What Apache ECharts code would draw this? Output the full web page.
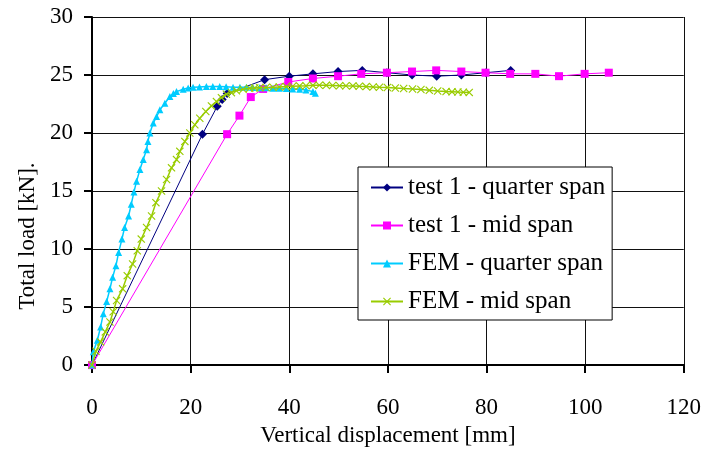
<!DOCTYPE html>
<html>
<head>
<meta charset="utf-8">
<script src="https://cdn.jsdelivr.net/npm/echarts@6/dist/echarts.min.js"></script>
<style>html,body{margin:0;padding:0;background:#fff}#c{width:704px;height:452px}</style>
</head>
<body>
<div id="c"></div>
<script>
const seriesNames = ['test 1 - quarter span', 'test 1 - mid span', 'FEM - quarter span', 'FEM - mid span'];
const xTicks = [0, 20, 40, 60, 80, 100, 120];
const yTicks = [0, 5, 10, 15, 20, 25, 30];

const test1Quarter = [[0,0],[22.4,19.9],[25.4,22.3],[26.4,22.9],[27.4,23.4],[35.0,24.6],[40.0,24.9],[44.8,25.1],[49.9,25.3],[54.8,25.4],[59.8,25.2],[64.9,25.0],[69.9,24.9],[74.9,25.0],[79.9,25.2],[84.9,25.4]];
const test1Mid = [[0,0],[27.4,19.9],[29.9,21.5],[32.2,23.1],[34.7,23.8],[39.8,24.4],[44.8,24.7],[49.9,24.9],[54.6,25.1],[59.8,25.2],[64.9,25.3],[69.8,25.4],[74.9,25.3],[79.8,25.2],[84.8,25.1],[89.9,25.1],[94.7,24.9],[99.9,25.1],[104.8,25.2]];
const femQuarter = [[0,0],[0.27,1.15],[1.08,2.14],[1.75,3.29],[2.29,4.43],[2.97,5.48],[3.64,6.57],[4.18,7.57],[4.86,8.57],[5.4,9.71],[6.07,10.86],[6.61,11.86],[7.42,12.85],[7.96,13.86],[8.5,14.91],[9.04,15.85],[9.72,16.85],[10.39,17.71],[11.07,18.57],[11.34,19.28],[11.74,20.0],[12.42,20.86],[13.09,21.42],[13.77,22.0],[14.78,22.57],[15.79,23.14],[16.5,23.4],[17.14,23.57],[18.49,23.77],[19.5,23.88],[20.5,23.94],[21.8,23.97],[23.2,24.0],[24.5,24.02],[25.9,24.0],[27.2,23.98],[28.6,23.95],[30.0,23.95],[31.3,23.94],[32.6,23.93],[34.0,23.9],[35.3,23.9],[36.7,23.87],[38.0,23.86],[39.4,23.84],[40.7,23.8],[42.1,23.77],[43.4,23.7],[44.8,23.57],[45.3,23.43]];
const femMid = [[0,0],[0.81,1.2],[1.75,2.0],[2.7,2.86],[3.64,3.72],[4.3,4.6],[4.99,5.57],[6.21,6.57],[7.15,7.71],[8.23,8.71],[9.18,9.85],[9.99,10.86],[11.07,11.86],[12.08,12.85],[12.96,14.0],[14.1,15.0],[15.12,16.0],[16.13,17.0],[17.14,17.71],[17.81,18.42],[18.83,19.28],[19.84,20.0],[20.85,20.71],[21.86,21.28],[23.08,21.85],[24.22,22.34],[25.24,22.71],[26.25,23.05],[27.26,23.34],[28.27,23.48],[29.29,23.65],[30.63,23.77],[31.98,23.85],[33.0,23.88],[34.0,23.9],[35.3,23.92],[36.7,23.94],[38.0,23.97],[39.4,24.0],[40.7,24.03],[42.1,24.06],[43.4,24.08],[44.8,24.11],[46.1,24.12],[47.5,24.11],[48.8,24.1],[50.2,24.08],[51.5,24.07],[52.9,24.06],[54.2,24.03],[55.6,24.0],[57.0,23.97],[58.3,23.94],[59.9,23.92],[61.5,23.88],[63.2,23.84],[65.0,23.8],[66.7,23.75],[68.4,23.68],[70.1,23.62],[71.8,23.57],[73.0,23.55],[74.2,23.53],[75.3,23.52],[76.5,23.5]];

const FONT = "'Liberation Serif', 'Times New Roman', serif";
const crossPath = 'path://M0,1L1,0L5,4L9,0L10,1L6,5L10,9L9,10L5,6L1,10L0,9L4,5Z';

const chart = echarts.init(document.getElementById('c'), null, {renderer: 'canvas'});
chart.setOption({
  animation: false,
  backgroundColor: '#fff',
  grid: {left: 92, right: 19, top: 17, bottom: 85, containLabel: false},
  xAxis: {
    type: 'value', min: xTicks[0], max: xTicks[xTicks.length - 1], interval: 20,
    name: 'Vertical displacement [mm]', nameLocation: 'middle', nameGap: 58,
    nameTextStyle: {fontFamily: FONT, fontSize: 23, color: '#000'},
    axisLine: {show: true, onZero: false, lineStyle: {color: '#000', width: 2}},
    axisTick: {show: true, inside: false, length: 8, lineStyle: {color: '#000', width: 2}},
    axisLabel: {fontFamily: FONT, fontSize: 23, color: '#000', margin: 31},
    splitLine: {show: true, lineStyle: {color: '#111', width: 1}}
  },
  yAxis: {
    type: 'value', min: yTicks[0], max: yTicks[yTicks.length - 1], interval: 5,
    name: 'Total load [kN].', nameLocation: 'middle', nameGap: 52,
    nameTextStyle: {fontFamily: FONT, fontSize: 23, color: '#000', padding: [0, 90, 0, 0]},
    axisLine: {show: true, onZero: false, lineStyle: {color: '#000', width: 2}},
    axisTick: {show: true, inside: false, length: 8, lineStyle: {color: '#000', width: 2}},
    axisLabel: {fontFamily: FONT, fontSize: 23, color: '#000', margin: 19},
    splitLine: {show: true, lineStyle: {color: '#111', width: 1}}
  },
  legend: {
    orient: 'vertical', left: 358, top: 167,
    backgroundColor: '#fff', borderColor: '#000', borderWidth: 1,
    padding: [8, 7, 6, 12], itemGap: 13, itemWidth: 32, itemHeight: 10,
    textStyle: {fontFamily: FONT, fontSize: 25, color: '#000', lineHeight: 25},
    data: seriesNames
  },
  series: [
    {name: seriesNames[0], type: 'line', data: test1Quarter, symbol: 'diamond', symbolSize: 9,
     itemStyle: {color: '#000080'}, lineStyle: {color: '#000080', width: 1}, z: 2},
    {name: seriesNames[1], type: 'line', data: test1Mid, symbol: 'rect', symbolSize: 8,
     itemStyle: {color: '#FF00FF'}, lineStyle: {color: '#FF00FF', width: 1}, z: 3},
    {name: seriesNames[2], type: 'line', data: femQuarter, symbol: 'triangle', symbolSize: 7,
     itemStyle: {color: '#00CCFF'}, lineStyle: {color: '#00CCFF', width: 1.5}, z: 4},
    {name: seriesNames[3], type: 'line', data: femMid, symbol: crossPath, symbolSize: 8,
     itemStyle: {color: '#99CC00'}, lineStyle: {color: '#99CC00', width: 1.5}, z: 5}
  ]
});
</script>
</body>
</html>
